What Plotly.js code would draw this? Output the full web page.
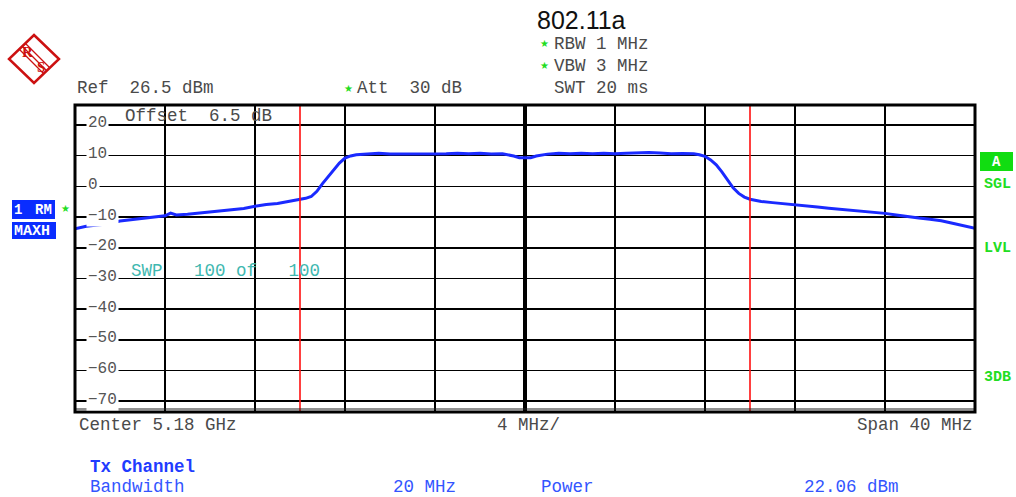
<!DOCTYPE html>
<html><head><meta charset="utf-8">
<script src="https://cdn.plot.ly/plotly-3.0.1.min.js"></script>
<style>html,body{margin:0;padding:0;background:#fff;} #chart{width:1016px;height:497px;}</style>
</head><body><div id="chart"></div>
<script>
// ---- data (frequency offset from 5.18 GHz centre, MHz) ----
const freqOffsetMHz = [-20,-19.5,-19,-18.5,-18,-17.5,-17,-16.5,-16,-15.75,-15.5,-15,-14.5,-14,-13.5,-13,-12.5,-12,-11.5,-11,-10.5,-10,-9.75,-9.5,-9.25,-9,-8.75,-8.5,-8.25,-8,-7.75,-7.5,-7,-6.5,-6,-5.5,-5,-4.5,-4,-3.5,-3,-2.5,-2,-1.5,-1,-0.5,-0.25,0,0.25,0.5,0.75,1,1.5,2,2.5,3,3.5,4,4.5,5,5.5,6,6.5,7,7.5,7.75,8,8.25,8.5,8.75,9,9.25,9.5,9.75,10,10.5,11,11.5,12,12.5,13,13.5,14,14.5,15,15.5,16,16.5,17,17.5,18,18.5,19,19.5,20];
const levelDbm = [-13.8,-13.0,-12.6,-12.2,-11.3,-10.9,-10.4,-10.1,-9.6,-8.7,-9.3,-9.1,-8.7,-8.3,-8.0,-7.5,-7.2,-6.5,-5.9,-5.6,-5.0,-4.2,-3.9,-3.3,-1.6,0.9,3.2,5.4,7.6,9.2,9.9,10.3,10.5,10.8,10.5,10.5,10.5,10.5,10.5,10.6,10.8,10.6,10.8,10.5,10.6,9.9,9.3,9.2,9.3,9.9,10.3,10.5,10.8,10.6,10.8,10.6,10.8,10.6,10.8,11.0,11.0,10.9,10.6,10.7,10.6,10.3,9.8,8.6,7.0,4.7,1.9,-0.5,-2.3,-3.5,-4.2,-4.9,-5.3,-5.6,-6.1,-6.4,-6.7,-7.1,-7.4,-7.8,-8.2,-8.5,-8.8,-9.3,-9.9,-10.3,-10.7,-11.2,-12.0,-12.9,-13.7];
const channelEdgesMHz = [-10, 10];
const yTickValues = [20,10,0,-10,-20,-30,-40,-50,-60,-70];
const yTickLabels = ['20','10','0','\u221210','\u221220','\u221230','\u221240','\u221250','\u221260','\u221270'];
const xRangeMHz = [-20, 20];
const yRangeDbm = [-73.5, 26.5];

// ---- geometry helpers ----
const W = 1016, H = 497, M = {l:75, r:41, t:105, b:85};
const PW = W - M.l - M.r, PH = H - M.t - M.b;
const px = x => (x - M.l) / PW;
const py = y => (H - M.b - y) / PH;

const MONO = 'Liberation Mono, Courier New, monospace';
const GREY = '#4a4a4a';
const annotations = [];
function txt(text, x, y, o) {
  o = o || {};
  annotations.push({
    text: text, xref: 'paper', yref: 'paper', x: px(x), y: py(y),
    xanchor: o.xanchor || 'left', yanchor: 'middle', showarrow: false,
    font: {family: o.family || MONO, size: o.size || 17.5, color: o.color || GREY},
    bgcolor: o.bg, borderpad: 0
  });
}

// header texts
txt('802.11a', 536, 20, {family: 'Liberation Sans, Arial, sans-serif', size: 25, color: '#111'});
txt('RBW 1 MHz', 553, 44);
txt('VBW 3 MHz', 553, 66);
txt('SWT 20 ms', 553, 88);
txt('Ref  26.5 dBm', 76, 88);
txt('Att  30 dB', 356, 88);
const STAR = {family: 'DejaVu Sans, sans-serif', size: 10, color: '#22dd22'};
txt('\u2605', 539, 44, STAR);
txt('\u2605', 539, 66, STAR);
txt('\u2605', 343, 88, STAR);
txt('\u2605', 60, 208, STAR);
txt('Offset  6.5 dB', 124, 116);
txt('SWP   100 of   100', 130, 271, {color: '#3fb8b0'});
// bottom texts
txt('Center 5.18 GHz', 78, 425);
txt('4 MHz/', 496, 425);
txt('Span 40 MHz', 974, 425, {xanchor: 'right'});
txt('<b>Tx Channel</b>', 89, 467, {color: '#1f3cff'});
txt('Bandwidth', 89, 487, {color: '#3355ff'});
txt('20 MHz', 392, 487, {color: '#3355ff'});
txt('Power', 540, 487, {color: '#3355ff'});
txt('22.06 dBm', 803, 487, {color: '#3355ff'});
// side labels
const BOX = {family: 'Liberation Mono, monospace', size: 14, color: '#ffffff'};
txt('<b>1</b>', 13, 210, BOX);
txt('<b>RM</b>', 34, 210, BOX);
txt('<b>MAXH</b>', 13, 231, Object.assign({}, BOX, {size: 15}));
txt('<b>A</b>', 996.5, 161.5, Object.assign({}, BOX, {xanchor: 'center'}));
const GRN = {family: 'Liberation Mono, monospace', size: 15, color: '#22dd22'};
txt('<b>SGL</b>', 983, 184, GRN);
txt('<b>LVL</b>', 983, 248, GRN);
txt('<b>3DB</b>', 983, 377, GRN);
// R&S logo letters
txt('<b>R</b>', 27, 52, {family: 'Liberation Serif, serif', size: 15, color: '#cc1111', xanchor: 'center'});
txt('<b>S</b>', 41, 67, {family: 'Liberation Serif, serif', size: 15, color: '#cc1111', xanchor: 'center'});

// y tick labels inside the frame (white background cuts the grid line)
yTickValues.forEach((v, i) => {
  annotations.push({
    text: yTickLabels[i], xref: 'paper', yref: 'y', x: px(86), y: v,
    xanchor: 'left', yanchor: 'middle', yshift: 1.5, showarrow: false,
    font: {family: MONO, size: 16, color: '#555'}, bgcolor: '#ffffff', borderpad: 1
  });
});

const shapes = [];
// channel edge markers
channelEdgesMHz.forEach(f => shapes.push({type: 'line', xref: 'x', yref: 'paper', x0: f, x1: f, y0: 0, y1: 1, line: {color: '#ff1010', width: 1.6}}));
// extra inner line near bottom
shapes.push({type: 'line', xref: 'paper', yref: 'paper', x0: 0, x1: 1, y0: py(409), y1: py(409), line: {color: '#222', width: 1}});
// frame
shapes.push({type: 'rect', xref: 'paper', yref: 'paper', x0: 0, x1: 1, y0: 0, y1: 1, line: {color: '#000', width: 3}});
// side boxes
shapes.push({type: 'rect', xref: 'paper', yref: 'paper', x0: px(12), x1: px(55), y0: py(219), y1: py(200), fillcolor: '#0a2dff', line: {width: 0}, layer: 'below'});
shapes.push({type: 'rect', xref: 'paper', yref: 'paper', x0: px(12), x1: px(56), y0: py(239), y1: py(222), fillcolor: '#0a2dff', line: {width: 0}, layer: 'below'});
shapes.push({type: 'rect', xref: 'paper', yref: 'paper', x0: px(980), x1: px(1013), y0: py(171), y1: py(152), fillcolor: '#11dd11', line: {width: 0}, layer: 'below'});
// R&S logo diamond and stripes
const dpath = 'M ' + px(34) + ' ' + py(35) + ' L ' + px(59) + ' ' + py(59) + ' L ' + px(34) + ' ' + py(83) + ' L ' + px(9) + ' ' + py(59) + ' Z';
shapes.push({type: 'path', xref: 'paper', yref: 'paper', path: dpath, line: {color: '#cc1111', width: 2.5}});
[-3, 0, 3].forEach(d => {
  shapes.push({type: 'line', xref: 'paper', yref: 'paper', x0: px(22 + d), y0: py(46 - d), x1: px(47 + d), y1: py(71 - d), line: {color: '#cc1111', width: 1.3}});
});

const trace = {
  x: freqOffsetMHz, y: levelDbm, type: 'scatter', mode: 'lines',
  line: {color: '#1a2aff', width: 3}, hoverinfo: 'skip'
};

const layout = {
  width: W, height: H, margin: M, showlegend: false,
  paper_bgcolor: '#fff', plot_bgcolor: '#fff',
  xaxis: {range: xRangeMHz, tick0: -20, dtick: 4, showgrid: true, gridcolor: '#000', gridwidth: 1.6,
          zeroline: true, zerolinecolor: '#000', zerolinewidth: 3.5, showticklabels: false, ticks: '', showline: false, fixedrange: true},
  yaxis: {range: yRangeDbm, tick0: 0, dtick: 10, showgrid: true, gridcolor: '#000', gridwidth: 1.6,
          zeroline: false, showticklabels: false, ticks: '', showline: false, fixedrange: true},
  shapes: shapes, annotations: annotations
};
Plotly.newPlot('chart', [trace], layout, {displayModeBar: false, staticPlot: true});
</script></body></html>
